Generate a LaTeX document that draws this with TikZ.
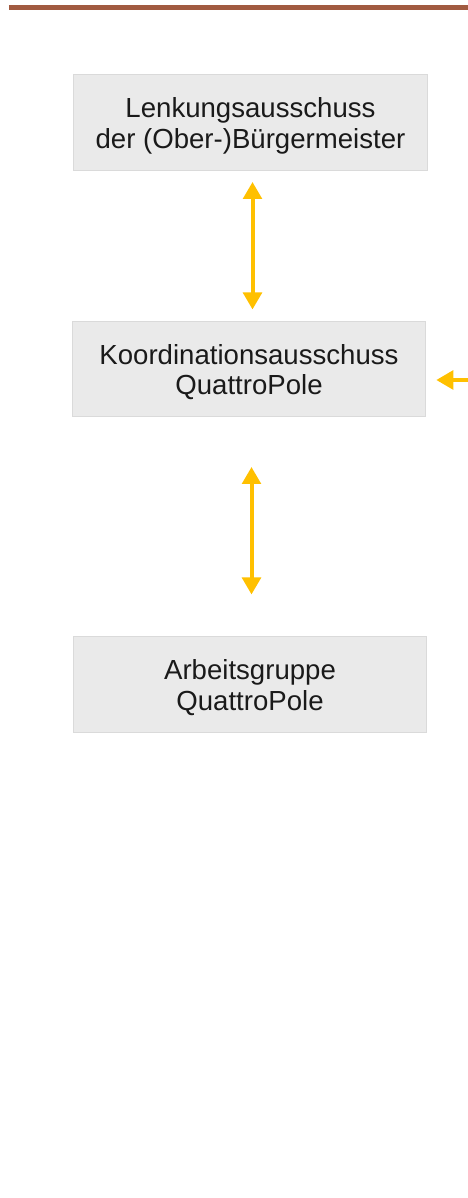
\documentclass[tikz,border=0pt]{standalone}
\usepackage{fontspec}
\setmainfont{Liberation Sans}
\usetikzlibrary{arrows.meta}
\definecolor{rostbraun}{RGB}{161,90,64}
\definecolor{kasten}{RGB}{234,234,234}
\definecolor{kastenrand}{RGB}{218,218,218}
\definecolor{goldgelb}{RGB}{255,192,0}
\definecolor{schrift}{RGB}{26,26,26}

\begin{document}
\begin{tikzpicture} [scale = 1, >={Triangle[length=0.34cm, width=0.37cm]},
	gremium/.style = {fill = kasten, draw = kastenrand, line width = 0.02cm, minimum width = 7.07cm, minimum height = 1.92cm, align = center, text = schrift, text depth = 0pt, font = \fontsize{15.7}{17.4}\selectfont},
	pfeil/.style = {goldgelb, line width = 0.08cm}]
	\useasboundingbox (0,0) rectangle (9.36,23.96);
	\draw [rostbraun, line width = 0.1cm] (0.18,23.81) -- (9.36,23.81);
	% Gremien
	\node [gremium] (lenkung) at (5.01,21.5) {Lenkungsausschuss\\der (Ober-)Bürgermeister};
	\node [gremium, minimum height = 1.9cm] (koordination) at (4.98,16.57) {Koordinationsausschuss\\QuattroPole};
	\node [gremium] (arbeitsgruppe) at (5.0,10.26) {Arbeitsgruppe\\QuattroPole};
	% Pfeile
	\draw [pfeil, <->, shorten < = 0.21cm, shorten > = 0.24cm] ([xshift=0.04cm]lenkung.south) -- ([xshift=0.04cm]lenkung.south |- koordination.north);
	\draw [pfeil, <->, shorten < = 0.99cm, shorten > = 0.84cm] ([xshift=0.05cm]koordination.south) -- ([xshift=0.05cm]koordination.south |- arbeitsgruppe.north);
	\coordinate (rand) at (9.6,16.36);
	\draw [pfeil, ->, shorten > = 0.2cm] (rand) -- (koordination.east |- rand);
	%\draw [dashed] (0,0) rectangle (9.36,23.96);
\end{tikzpicture}
\end{document}
